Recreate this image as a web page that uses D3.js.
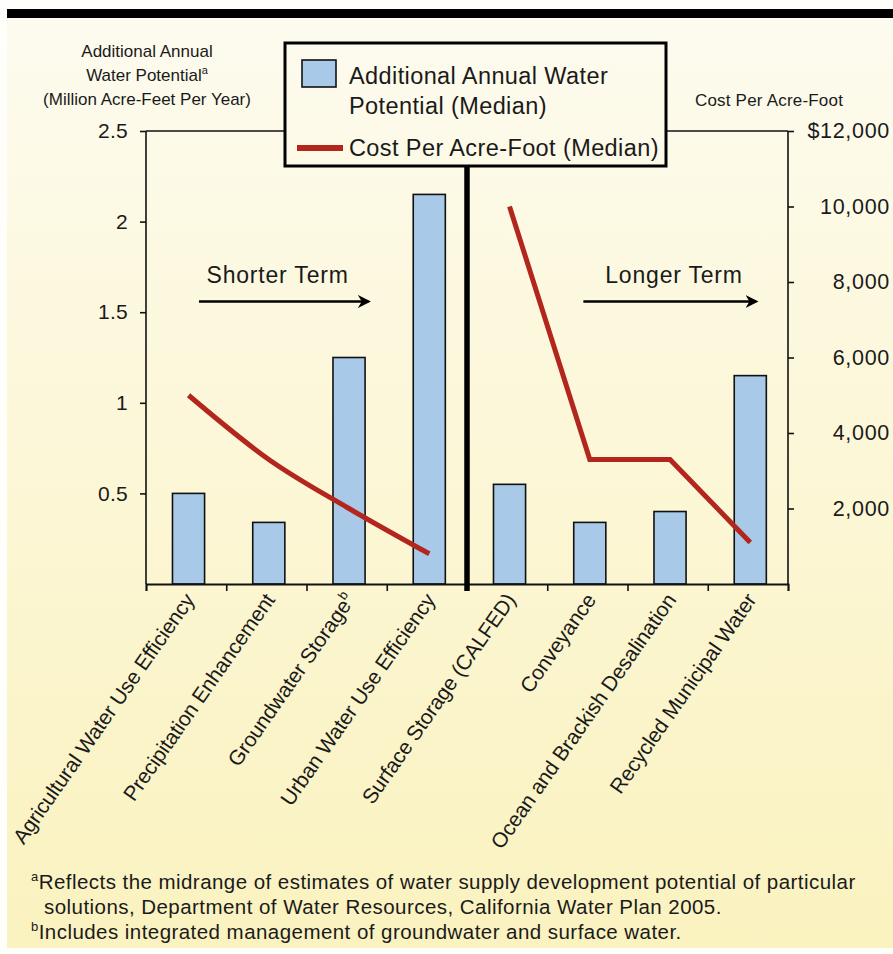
<!DOCTYPE html>
<html>
<head>
<meta charset="utf-8">
<script src="https://cdn.jsdelivr.net/npm/d3@7"></script>
<style>
  html, body { margin: 0; padding: 0; background: #ffffff; }
  svg text { font-family: "Liberation Sans", Arial, Helvetica, sans-serif; fill: #1a1a1a; }
</style>
</head>
<body>
<svg id="chart" width="893" height="954"></svg>
<script>
// Water supply options: median additional annual potential and median cost
const categories = [
  "Agricultural Water Use Efficiency",
  "Precipitation Enhancement",
  "Groundwater Storage",
  "Urban Water Use Efficiency",
  "Surface Storage (CALFED)",
  "Conveyance",
  "Ocean and Brackish Desalination",
  "Recycled Municipal Water"
];
const superscripts = ["", "", "b", "", "", "", "", ""];
const terms = ["Shorter", "Shorter", "Shorter", "Shorter", "Longer", "Longer", "Longer", "Longer"];
const potential = [0.5, 0.34, 1.25, 2.15, 0.55, 0.34, 0.40, 1.15];   // million acre-feet per year
const cost = [5000, 3300, 2000, 800, 10000, 3300, 3300, 1100];        // dollars per acre-foot
const leftTicks = [0.5, 1, 1.5, 2, 2.5];
const rightTicks = [2000, 4000, 6000, 8000, 10000, 12000];

const svg = d3.select("#chart");
const W = 893, H = 954;
const plot = { left: 146, right: 788, top: 131, bottom: 584 };

// background panel with soft cream-to-yellow gradient
const defs = svg.append("defs");
const grad = defs.append("linearGradient").attr("id", "bg")
  .attr("gradientUnits", "userSpaceOnUse")
  .attr("x1", 0).attr("y1", 18).attr("x2", 0).attr("y2", 950);
grad.append("stop").attr("offset", "0%").attr("stop-color", "#fdfbef");
grad.append("stop").attr("offset", "45%").attr("stop-color", "#fcf7d8");
grad.append("stop").attr("offset", "100%").attr("stop-color", "#faf2bf");

svg.append("rect").attr("width", W).attr("height", H).attr("fill", "#fefefb");
svg.append("rect").attr("x", 7).attr("y", 18).attr("width", W - 7).attr("height", 930).attr("fill", "url(#bg)");
svg.append("rect").attr("x", 7).attr("y", 9).attr("width", W - 7).attr("height", 9).attr("fill", "#000");

// scales
const x = d3.scaleBand().domain(categories).range([plot.left, plot.right])
  .paddingInner(0.6).paddingOuter(0.3).align(0.55);
const edge = d3.scaleLinear().domain([0, categories.length]).range([plot.left, plot.right]);
const yL = d3.scaleLinear().domain([0, 2.5]).range([plot.bottom, plot.top]);
const yR = d3.scaleLinear().domain([0, 12000]).range([plot.bottom, plot.top]);

// bars
svg.append("g").selectAll("rect").data(categories).join("rect")
  .attr("x", d => x(d))
  .attr("width", x.bandwidth())
  .attr("y", (d, i) => yL(potential[i]))
  .attr("height", (d, i) => plot.bottom - yL(potential[i]))
  .attr("fill", "#a9c9e8")
  .attr("stroke", "#111")
  .attr("stroke-width", 1.6);

// cost lines, one for each term group
const pts = categories.map((c, i) => ({ x: x(c) + x.bandwidth() / 2, y: yR(cost[i]), term: terms[i] }));
const shorter = pts.filter(p => p.term === "Shorter");
const longer = pts.filter(p => p.term === "Longer");
svg.append("path")
  .attr("d", d3.line().x(p => p.x).y(p => p.y).curve(d3.curveMonotoneX)(shorter))
  .attr("fill", "none").attr("stroke", "#b3261e").attr("stroke-width", 5).attr("stroke-linecap", "butt");
svg.append("path")
  .attr("d", d3.line().x(p => p.x).y(p => p.y)(longer))
  .attr("fill", "none").attr("stroke", "#b3261e").attr("stroke-width", 5).attr("stroke-linejoin", "miter");

// axes
const axisL = svg.append("g").attr("transform", `translate(${plot.left},0)`)
  .call(d3.axisLeft(yL).tickValues(leftTicks).tickSize(6).tickPadding(12).tickFormat(d3.format("")));
const axisR = svg.append("g").attr("transform", `translate(${plot.right},0)`)
  .call(d3.axisRight(yR).tickValues(rightTicks).tickSize(6)
    .tickFormat(d => d === 12000 ? "$12,000" : d3.format(",")(d)));
[axisL, axisR].forEach(g => {
  g.select(".domain").attr("stroke", "#111").attr("stroke-width", 1.6)
    .attr("d", `M0,${plot.top}V${plot.bottom}`);
  g.selectAll(".tick line").attr("stroke", "#111").attr("stroke-width", 1.6);
  g.selectAll(".tick text").attr("font-size", 21).attr("fill", "#1a1a1a");
});
axisL.selectAll(".tick text").attr("letter-spacing", 0.3);
axisR.selectAll(".tick text").attr("text-anchor", "end").attr("x", 102).attr("font-size", 21.5).attr("letter-spacing", 0.7);

// top frame and baseline
svg.append("line").attr("x1", plot.left).attr("x2", plot.right).attr("y1", plot.top).attr("y2", plot.top)
  .attr("stroke", "#111").attr("stroke-width", 1.6);
const xAxis = svg.append("g").attr("transform", `translate(0,${plot.bottom})`)
  .call(d3.axisBottom(edge).tickValues(d3.range(categories.length + 1)).tickSize(7).tickFormat(""));
xAxis.select(".domain").attr("stroke", "#111").attr("stroke-width", 1.8);
xAxis.selectAll(".tick line").attr("stroke", "#111").attr("stroke-width", 1.6);

// category labels
svg.append("g").selectAll("text").data(categories).join("text")
  .attr("transform", d => `translate(${x(d) + x.bandwidth() / 2 + 7},${plot.bottom + 16}) rotate(-55)`)
  .attr("text-anchor", "end")
  .attr("font-size", 21)
  .attr("letter-spacing", -0.15)
  .each(function (d, i) {
    const t = d3.select(this);
    t.append("tspan").text(d);
    if (superscripts[i]) t.append("tspan").attr("font-size", 13).attr("dy", -9).text(superscripts[i]);
  });

// divider between shorter and longer term options
svg.append("line")
  .attr("x1", edge(4)).attr("x2", edge(4)).attr("y1", 160).attr("y2", plot.bottom + 7)
  .attr("stroke", "#000").attr("stroke-width", 5.5);

// term arrows
defs.append("marker").attr("id", "arrow").attr("viewBox", "0 0 10 10")
  .attr("refX", 8).attr("refY", 5).attr("markerWidth", 5).attr("markerHeight", 5)
  .attr("markerUnits", "strokeWidth").attr("orient", "auto")
  .append("path").attr("d", "M0,0 L10,5 L0,10 L3,5 Z").attr("fill", "#000");
const termLabels = [
  { text: "Shorter Term", x1: edge(0.66), x2: edge(2.77), tx: edge(1.64) },
  { text: "Longer Term", x1: edge(5.45), x2: edge(7.6), tx: edge(6.58) }
];
termLabels.forEach(t => {
  svg.append("text").attr("x", t.tx).attr("y", 283).attr("text-anchor", "middle")
    .attr("font-size", 23).attr("letter-spacing", 0.8).text(t.text);
  svg.append("line").attr("x1", t.x1).attr("x2", t.x2).attr("y1", 301.5).attr("y2", 301.5)
    .attr("stroke", "#000").attr("stroke-width", 2.6).attr("marker-end", "url(#arrow)");
});

// axis titles
const lt = svg.append("g");
lt.append("text").attr("x", 147).attr("y", 57).attr("text-anchor", "middle").attr("font-size", 17).text("Additional Annual");
const lt2 = lt.append("text").attr("x", 147).attr("y", 81).attr("text-anchor", "middle").attr("font-size", 17);
lt2.append("tspan").text("Water Potential");
lt2.append("tspan").attr("font-size", 11).attr("dy", -7).text("a");
lt.append("text").attr("x", 147).attr("y", 105).attr("text-anchor", "middle").attr("font-size", 17).text("(Million Acre-Feet Per Year)");
svg.append("text").attr("x", 769).attr("y", 106).attr("text-anchor", "middle")
  .attr("font-size", 17).attr("letter-spacing", 0.2).text("Cost Per Acre-Foot");

// legend
const lg = svg.append("g");
lg.append("rect").attr("x", 285).attr("y", 43).attr("width", 381).attr("height", 123)
  .attr("fill", "url(#bg)").attr("stroke", "#000").attr("stroke-width", 3);
lg.append("rect").attr("x", 302).attr("y", 60).attr("width", 34).attr("height", 27)
  .attr("fill", "#a9c9e8").attr("stroke", "#111").attr("stroke-width", 1.6);
lg.append("text").attr("x", 349).attr("y", 84).attr("font-size", 23.5).attr("letter-spacing", 0.4).text("Additional Annual Water");
lg.append("text").attr("x", 349).attr("y", 114).attr("font-size", 23.5).attr("letter-spacing", 0.4).text("Potential (Median)");
lg.append("line").attr("x1", 297).attr("x2", 343).attr("y1", 148).attr("y2", 148)
  .attr("stroke", "#b3261e").attr("stroke-width", 6);
lg.append("text").attr("x", 349).attr("y", 156).attr("font-size", 23.5).attr("letter-spacing", 0.4).text("Cost Per Acre-Foot (Median)");

// footnotes
const fn = svg.append("g").attr("font-size", 20.5).attr("letter-spacing", 0.45);
const f1 = fn.append("text").attr("x", 31).attr("y", 889);
f1.append("tspan").attr("font-size", 13).attr("dy", -8).text("a");
f1.append("tspan").attr("dy", 8).text("Reflects the midrange of estimates of water supply development potential of particular");
fn.append("text").attr("x", 44).attr("y", 914).text("solutions, Department of Water Resources, California Water Plan 2005.");
const f3 = fn.append("text").attr("x", 31).attr("y", 939);
f3.append("tspan").attr("font-size", 13).attr("dy", -8).text("b");
f3.append("tspan").attr("dy", 8).text("Includes integrated management of groundwater and surface water.");
</script>
</body>
</html>
